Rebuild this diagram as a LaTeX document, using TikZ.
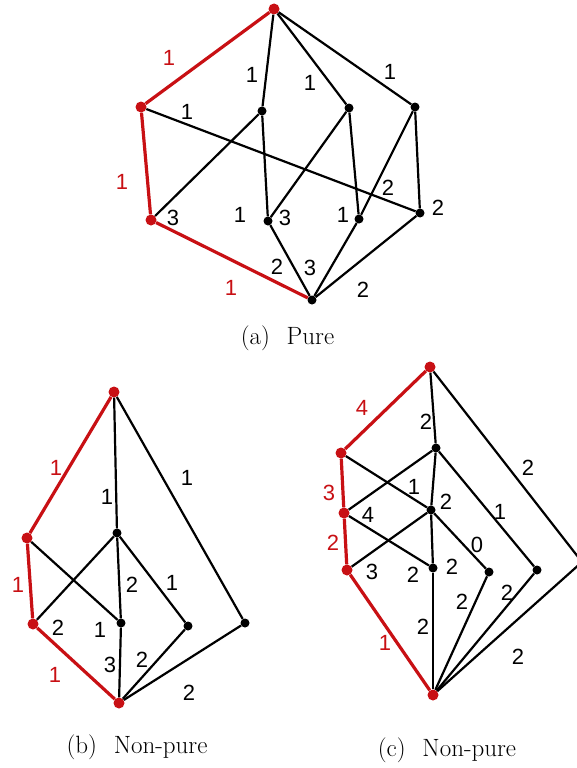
\documentclass[tikz,border=0pt]{standalone}
\usepackage{fontspec}
\newfontfamily\labfont{Liberation Sans}
\definecolor{pathred}{RGB}{200,16,20}
\begin{document}
\begin{tikzpicture}[x=1pt,y=-1pt,
  bdot/.style={circle,fill=black,inner sep=0pt,minimum size=9pt},
  rdot/.style={circle,fill=pathred,inner sep=0pt,minimum size=11pt},
  edge/.style={line width=2.2pt,black},
  redge/.style={line width=3.2pt,pathred},
  lab/.style={font=\fontsize{22}{22}\selectfont\labfont,inner sep=0pt},
  rlab/.style={lab,text=pathred},
  captxt/.style={font=\fontsize{25}{25}\selectfont,inner sep=0pt}]
\useasboundingbox (0,0) rectangle (577,768);
% ---------------- (a) ----------------
\node[rdot] (aT) at (274,9) {};
\node[rdot] (aL1) at (141,107) {};
\node[rdot] (aL2) at (151,220) {};
\node[bdot] (aB) at (312,300) {};
\node[bdot] (aA1) at (262,111) {};
\node[bdot] (aA2) at (349,108) {};
\node[bdot] (aA3) at (415,107) {};
\node[bdot] (aC1) at (268,221) {};
\node[bdot] (aC2) at (359,219) {};
\node[bdot] (aC3) at (420,213) {};
\draw[edge] (aT) -- (aA1);
\draw[edge] (aT) -- (aA2);
\draw[edge] (aT) -- (aA3);
\draw[edge] (aL1) -- (aC3);
\draw[edge] (aA1) -- (aL2);
\draw[edge] (aA1) -- (aC1);
\draw[edge] (aA2) -- (aC1);
\draw[edge] (aA2) -- (aC2);
\draw[edge] (aA3) -- (aC2);
\draw[edge] (aA3) -- (aC3);
\draw[edge] (aC1) -- (aB);
\draw[edge] (aC2) -- (aB);
\draw[edge] (aC3) -- (aB);
\draw[redge] (aT) -- (aL1);
\draw[redge] (aL1) -- (aL2);
\draw[redge] (aL2) -- (aB);
\node[rlab] (la1) at (169,58) {1};
\node[rlab] (la2) at (122,182) {1};
\node[rlab] (la3) at (231,288) {1};
\node[lab] (la4) at (252,75) {1};
\node[lab] (la5) at (310,83) {1};
\node[lab] (la6) at (390,72) {1};
\node[lab] (la7) at (187,112) {1};
\node[lab] (la8) at (388,188) {2};
\node[lab] (la9) at (173,218) {3};
\node[lab] (la10) at (240,215) {1};
\node[lab] (la11) at (285,218) {3};
\node[lab] (la12) at (343,215) {1};
\node[lab] (la13) at (277,267) {2};
\node[lab] (la14) at (310,268) {3};
\node[lab] (la15) at (363,290) {2};
\node[lab] (la16) at (438,208) {2};
\node[captxt] (capa) at (287.5,338) {(a)\hspace{0.67em}Pure};
% ---------------- (b) ----------------
\node[rdot] (bT) at (114,392) {};
\node[rdot] (bL1) at (27,538) {};
\node[rdot] (bL2) at (33,624) {};
\node[rdot] (bB) at (119,703) {};
\node[bdot] (bM) at (117,533) {};
\node[bdot] (bN1) at (121,623) {};
\node[bdot] (bN2) at (188,626) {};
\node[bdot] (bN3) at (245,623) {};
\draw[edge] (bT) -- (bM);
\draw[edge] (bT) -- (bN3);
\draw[edge] (bL1) -- (bN1);
\draw[edge] (bM) -- (bL2);
\draw[edge] (bM) -- (bN1);
\draw[edge] (bM) -- (bN2);
\draw[edge] (bN1) -- (bB);
\draw[edge] (bN2) -- (bB);
\draw[edge] (bN3) -- (bB);
\draw[redge] (bT) -- (bL1);
\draw[redge] (bL1) -- (bL2);
\draw[redge] (bL2) -- (bB);
\node[rlab] (lb1) at (56,468) {1};
\node[rlab] (lb2) at (18,585) {1};
\node[rlab] (lb3) at (55,675) {1};
\node[lab] (lb4) at (107,497) {1};
\node[lab] (lb5) at (187,478) {1};
\node[lab] (lb6) at (58,628) {2};
\node[lab] (lb7) at (132,585) {2};
\node[lab] (lb8) at (172,583) {1};
\node[lab] (lb9) at (100,630) {1};
\node[lab] (lb10) at (110,665) {3};
\node[lab] (lb11) at (142,660) {2};
\node[lab] (lb12) at (189,693) {2};
\node[captxt] (capb) at (137,747) {(b)\hspace{0.67em}Non-pure};
% ---------------- (c) ----------------
\node[rdot] (cT) at (430,367) {};
\node[rdot] (cL1) at (341,453) {};
\node[rdot] (cL2) at (344,513) {};
\node[rdot] (cL3) at (347,570) {};
\node[rdot] (cB) at (433,695) {};
\node[bdot] (cP1) at (436,448) {};
\node[bdot] (cP2) at (431,510) {};
\node[bdot] (cQ1) at (433,568) {};
\node[bdot] (cQ2) at (489,572) {};
\node[bdot] (cQ3) at (537,570) {};
\node[bdot] (cR) at (582,562) {};
\draw[edge] (cT) -- (cP1);
\draw[edge] (cT) -- (cR);
\draw[edge] (cP1) -- (cP2);
\draw[edge] (cP1) -- (cL2);
\draw[edge] (cP1) -- (cQ3);
\draw[edge] (cL1) -- (cP2);
\draw[edge] (cP2) -- (cL3);
\draw[edge] (cP2) -- (cQ1);
\draw[edge] (cP2) -- (cQ2);
\draw[edge] (cL2) -- (cQ1);
\draw[edge] (cQ1) -- (cB);
\draw[edge] (cQ2) -- (cB);
\draw[edge] (cQ3) -- (cB);
\draw[edge] (cR) -- (cB);
\draw[redge] (cT) -- (cL1);
\draw[redge] (cL1) -- (cL2);
\draw[redge] (cL2) -- (cL3);
\draw[redge] (cL3) -- (cB);
\node[rlab] (lc1) at (362,408) {4};
\node[rlab] (lc2) at (329,493) {3};
\node[rlab] (lc3) at (333,543) {2};
\node[rlab] (lc4) at (385,643) {1};
\node[lab] (lc5) at (426,422) {2};
\node[lab] (lc6) at (528,468) {2};
\node[lab] (lc7) at (414,487) {1};
\node[lab] (lc8) at (446,502) {2};
\node[lab] (lc9) at (500,512) {1};
\node[lab] (lc10) at (368,515) {4};
\node[lab] (lc11) at (477,545) {0};
\node[lab] (lc12) at (372,572) {3};
\node[lab] (lc13) at (413,575) {2};
\node[lab] (lc14) at (452,567) {2};
\node[lab] (lc15) at (462,602) {2};
\node[lab] (lc16) at (507,593) {2};
\node[lab] (lc17) at (423,627) {2};
\node[lab] (lc18) at (518,657) {2};
\node[captxt] (capc) at (447,750) {(c)\hspace{0.67em}Non-pure};
\end{tikzpicture}
\end{document}
